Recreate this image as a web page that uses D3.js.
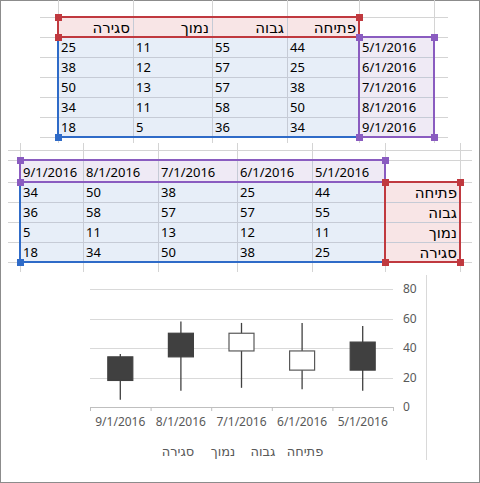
<!DOCTYPE html>
<html><head><meta charset="utf-8">
<script src="https://cdn.jsdelivr.net/npm/d3@7"></script>
<style>body{margin:0;background:#fff}svg{display:block}</style>
</head><body>
<script>
// data
const dates = ["5/1/2016","6/1/2016","7/1/2016","8/1/2016","9/1/2016"]
const seriesNames = ["פתיחה","גבוה","נמוך","סגירה"]
const openV = [44,25,38,50,34]
const highV = [55,57,57,58,36]
const lowV = [11,12,13,11,5]
const closeV = [25,38,50,34,18]
const yTicks = [0,20,40,60,80]

const W = 480, H = 483
const svg = d3.select("body").append("svg").attr("width",W).attr("height",H)
svg.append("rect").attr("x",0.5).attr("y",0.5).attr("width",W-1).attr("height",H-1)
  .attr("fill","#fff").attr("stroke","#8c8c8c")

const font = "Noto Sans, DejaVu Sans, sans-serif"
const grid = "#d4d4d4"

function gridLines(xs, ys, x0, x1, y0, y1){
  const g = svg.append("g")
  xs.forEach(x => g.append("line").attr("x1",x+.5).attr("x2",x+.5).attr("y1",y0).attr("y2",y1).attr("stroke",grid))
  ys.forEach(y => g.append("line").attr("x1",x0).attr("x2",x1).attr("y1",y+.5).attr("y2",y+.5).attr("stroke",grid))
}

function handle(x,y,c){
  svg.append("rect").attr("x",x-3).attr("y",y-3).attr("width",7).attr("height",7).attr("fill",c)
}

// ---- Table 1 (rows = dates) ----
const c1 = [58,133,212,287,359,434]
const r1 = [17,37,57,77,97,117,137]
gridLines(c1, [17,37,57,77,97,117,137], 40, 448, 0, 143)
svg.append("rect").attr("x",58).attr("y",17).attr("width",301).attr("height",20).attr("fill","#f8e5e6")
svg.append("rect").attr("x",58).attr("y",37).attr("width",301).attr("height",100).attr("fill","#e7eef8")
svg.append("rect").attr("x",359).attr("y",37).attr("width",75).attr("height",100).attr("fill","#efeaf5")
for(let i=1;i<4;i++) svg.append("line").attr("x1",c1[i]+.5).attr("x2",c1[i]+.5).attr("y1",17).attr("y2",137).attr("stroke","#c6cbd6")
for(let j=2;j<6;j++) svg.append("line").attr("x1",58).attr("x2",434).attr("y1",r1[j]+.5).attr("y2",r1[j]+.5).attr("stroke","#c6cbd6")
const t1 = svg.append("g").attr("font-family",font).attr("font-size",13).attr("fill","#000")
seriesNames.forEach((s,i)=>{
  t1.append("text").attr("x",c1[4-i]-3).attr("y",33).attr("text-anchor","end").attr("font-size",15).text(s)
})
const vals = [openV,highV,lowV,closeV]
dates.forEach((d,r)=>{
  t1.append("text").attr("x",c1[4]+3).attr("y",r1[r+1]+15).text(d)
  vals.forEach((v,i)=>{
    t1.append("text").attr("x",c1[3-i]+3).attr("y",r1[r+1]+15).text(v[r])
  })
})
svg.append("rect").attr("x",58).attr("y",17).attr("width",301).attr("height",20).attr("fill","none").attr("stroke","#c0393f").attr("stroke-width",2)
svg.append("rect").attr("x",359).attr("y",37).attr("width",75).attr("height",100).attr("fill","none").attr("stroke","#8a5cc0").attr("stroke-width",2)
svg.append("line").attr("x1",58).attr("x2",58).attr("y1",37).attr("y2",137).attr("stroke","#2f6bc8").attr("stroke-width",2)
svg.append("line").attr("x1",58).attr("x2",359).attr("y1",137).attr("y2",137).attr("stroke","#2f6bc8").attr("stroke-width",2)
handle(58,17,"#c0393f");handle(359,17,"#c0393f");handle(58,37,"#c0393f")
handle(359,37,"#8a5cc0");handle(434,37,"#8a5cc0");handle(359,137,"#8a5cc0");handle(434,137,"#8a5cc0")
handle(58,137,"#2f6bc8")

// ---- Table 2 (transposed) ----
const c2 = [20,83,158,237,312,385,460]
const r2 = [160,182,202,222,242,262]
gridLines(c2, [150,160,182,202,222,242,262], 8, 472, 143, 272)
svg.append("rect").attr("x",20).attr("y",160).attr("width",365).attr("height",22).attr("fill","#efeaf5")
svg.append("rect").attr("x",20).attr("y",182).attr("width",365).attr("height",80).attr("fill","#e7eef8")
svg.append("rect").attr("x",385).attr("y",182).attr("width",75).attr("height",80).attr("fill","#f8e5e6")
for(let i=1;i<5;i++) svg.append("line").attr("x1",c2[i]+.5).attr("x2",c2[i]+.5).attr("y1",160).attr("y2",262).attr("stroke","#c6cbd6")
for(let j=2;j<5;j++) svg.append("line").attr("x1",20).attr("x2",460).attr("y1",r2[j]+.5).attr("y2",r2[j]+.5).attr("stroke","#c6cbd6")
const t2 = svg.append("g").attr("font-family",font).attr("font-size",13).attr("fill","#000")
dates.forEach((d,k)=>{
  const ci = 4-k
  t2.append("text").attr("x",c2[ci]+3).attr("y",177).text(d)
  vals.forEach((v,i)=>{
    t2.append("text").attr("x",c2[ci]+3).attr("y",r2[i+1]+15).text(v[k])
  })
})
seriesNames.forEach((s,i)=>{
  t2.append("text").attr("x",c2[6]-3).attr("y",r2[i+1]+16).attr("text-anchor","end").attr("font-size",15).text(s)
})
svg.append("rect").attr("x",20).attr("y",160).attr("width",365).attr("height",22).attr("fill","none").attr("stroke","#8a5cc0").attr("stroke-width",2)
svg.append("rect").attr("x",385).attr("y",182).attr("width",75).attr("height",80).attr("fill","none").attr("stroke","#c0393f").attr("stroke-width",2)
svg.append("line").attr("x1",20).attr("x2",20).attr("y1",182).attr("y2",262).attr("stroke","#2f6bc8").attr("stroke-width",2)
svg.append("line").attr("x1",20).attr("x2",385).attr("y1",262).attr("y2",262).attr("stroke","#2f6bc8").attr("stroke-width",2)
handle(20,160,"#8a5cc0");handle(385,160,"#8a5cc0");handle(20,182,"#8a5cc0")
handle(385,182,"#c0393f");handle(460,182,"#c0393f");handle(385,262,"#c0393f");handle(460,262,"#c0393f")
handle(20,262,"#2f6bc8")

// ---- Candlestick chart ----
svg.append("line").attr("x1",426.5).attr("x2",426.5).attr("y1",275).attr("y2",460).attr("stroke","#d9d9d9")
const x = d3.scaleBand().domain(dates.slice().reverse()).range([90,393])
const y = d3.scaleLinear().domain([0,80]).range([407,289])
const cg = svg.append("g").attr("font-family",font).attr("font-size",12).attr("fill","#595959")
yTicks.forEach(t=>{
  if(t>0) cg.append("line").attr("x1",90).attr("x2",393).attr("y1",Math.round(y(t))+.5).attr("y2",Math.round(y(t))+.5).attr("stroke","#d9d9d9")
  cg.append("text").attr("x",403).attr("y",y(t)+4).text(t)
})
const xa = svg.append("g").attr("transform","translate(0,407)")
  .call(d3.axisBottom(x).tickSize(0).tickPadding(10).tickSizeOuter(0))
xa.select(".domain").attr("stroke","#bfbfbf")
xa.selectAll("text").attr("font-family",font).attr("font-size",12).attr("fill","#595959")
x.domain().forEach(d=>{
  xa.append("line").attr("x1",x(d)+.5).attr("x2",x(d)+.5).attr("y1",0).attr("y2",4).attr("stroke","#bfbfbf")
})
xa.append("line").attr("x1",393.5).attr("x2",393.5).attr("y1",0).attr("y2",4).attr("stroke","#bfbfbf")

const cw = 25
dates.forEach((d,i)=>{
  const cx = x(d)+x.bandwidth()/2
  svg.append("line").attr("x1",cx).attr("x2",cx).attr("y1",y(highV[i])).attr("y2",y(lowV[i])).attr("stroke","#404040").attr("stroke-width",1.3)
  const up = closeV[i] > openV[i]
  const top = y(Math.max(openV[i],closeV[i])), bot = y(Math.min(openV[i],closeV[i]))
  svg.append("rect").attr("x",cx-cw/2).attr("y",top).attr("width",cw).attr("height",bot-top)
    .attr("fill",up?"#fff":"#404040").attr("stroke",up?"#595959":"#404040").attr("stroke-width",1.2)
})
// legend
const lx = [305,263,223,178]
seriesNames.forEach((s,i)=>{
  cg.append("text").attr("x",lx[i]).attr("y",456).attr("text-anchor","middle").attr("font-size",13).text(s)
})
</script>
</body></html>
